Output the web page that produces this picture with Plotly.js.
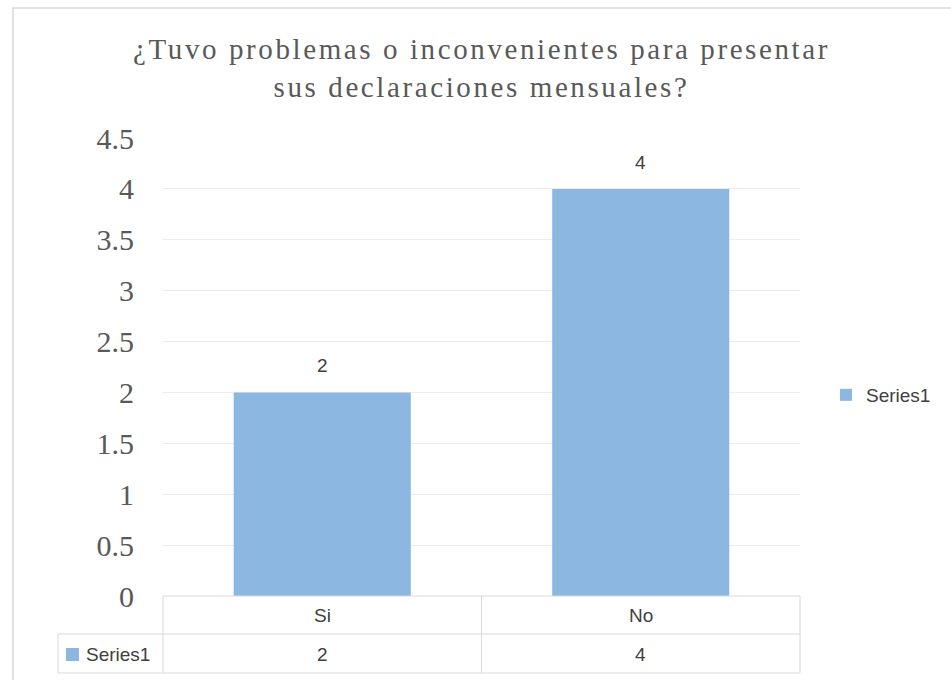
<!DOCTYPE html>
<html>
<head>
<meta charset="utf-8">
<script src="https://cdn.plot.ly/plotly-3.0.1.min.js"></script>
<style>html,body{margin:0;padding:0;background:#fff;}#chart{width:951px;height:680px;}
.gtitle{letter-spacing:2.6px;}</style>
</head>
<body>
<div id="chart"></div>
<script>
const categories = ["Si", "No"];
const values = [2, 4];
const seriesName = "Series1";
const titleText = "¿Tuvo problemas o inconvenientes para presentar<br>sus declaraciones mensuales?";

const barColor = "#8CB7E0";
const gridColor = "#ECECEC";
const tableColor = "#D9D9D9";
const sansFont = "Liberation Sans, Arial, sans-serif";
const serifFont = "Liberation Serif, Times New Roman, serif";

// pixel helpers for plot geometry (plot area: x 163..800, y 138..596)
const L = 163, R = 800, T = 138, B = 596;
const px = v => (v - L) / (R - L);
const py = v => (B - v) / (B - T);

const trace = {
  type: "bar",
  x: categories,
  y: values,
  name: seriesName,
  marker: {color: barColor},
  hoverinfo: "none"
};

const shapes = [
  // outer chart border
  {type: "rect", xref: "paper", yref: "paper", x0: px(13), x1: px(960), y0: py(8), y1: py(700), line: {color: "#D9D9D9", width: 1.5}},
  // table lines
  {type: "line", xref: "paper", yref: "paper", x0: px(L), x1: px(R), y0: py(B), y1: py(B), line: {color: tableColor, width: 1}},
  {type: "line", xref: "paper", yref: "paper", x0: px(58), x1: px(R), y0: py(634), y1: py(634), line: {color: tableColor, width: 1}},
  {type: "line", xref: "paper", yref: "paper", x0: px(58), x1: px(R), y0: py(673), y1: py(673), line: {color: tableColor, width: 1}},
  {type: "line", xref: "paper", yref: "paper", x0: px(58), x1: px(58), y0: py(634), y1: py(673), line: {color: tableColor, width: 1}},
  {type: "line", xref: "paper", yref: "paper", x0: px(L), x1: px(L), y0: py(B), y1: py(673), line: {color: tableColor, width: 1}},
  {type: "line", xref: "paper", yref: "paper", x0: px((L + R) / 2), x1: px((L + R) / 2), y0: py(B), y1: py(673), line: {color: tableColor, width: 1}},
  {type: "line", xref: "paper", yref: "paper", x0: px(R), x1: px(R), y0: py(B), y1: py(673), line: {color: tableColor, width: 1}},
  // legend key in table
  {type: "rect", xref: "paper", yref: "paper", x0: px(66), x1: px(79), y0: py(648), y1: py(661), fillcolor: barColor, line: {width: 0}}
];

const annotations = [];
// data labels
categories.forEach((c, i) => {
  annotations.push({x: c, y: values[i], xref: "x", yref: "y", text: String(values[i]), showarrow: false,
    yanchor: "bottom", yshift: 14, font: {family: sansFont, size: 19, color: "#404040"}});
  // table header
  annotations.push({x: c, y: py(615), xref: "x", yref: "paper", text: c, showarrow: false,
    yanchor: "middle", font: {family: sansFont, size: 19, color: "#404040"}});
  // table values
  annotations.push({x: c, y: py(654), xref: "x", yref: "paper", text: String(values[i]), showarrow: false,
    yanchor: "middle", font: {family: sansFont, size: 19, color: "#404040"}});
});
annotations.push({x: px(84), y: py(654), xref: "paper", yref: "paper", text: seriesName, showarrow: false,
  xanchor: "left", yanchor: "middle", font: {family: sansFont, size: 19, color: "#404040"}});

const layout = {
  width: 951, height: 680,
  margin: {l: L, r: 951 - R, t: T, b: 680 - B, pad: 0},
  paper_bgcolor: "#FFFFFF",
  plot_bgcolor: "#FFFFFF",
  title: {text: titleText, x: px((L + R) / 2), xanchor: "center", xref: "paper", y: 1 - 59 / 680, yanchor: "top", yref: "container",
    font: {family: serifFont, size: 29, color: "#595959"}},
  bargap: 0.444,
  xaxis: {showticklabels: false, showgrid: false, zeroline: false, showline: false, ticks: "", fixedrange: true},
  yaxis: {range: [0, 4.5], dtick: 0.5, tick0: 0, showgrid: true, gridcolor: gridColor, gridwidth: 1, zeroline: false,
    showline: false, ticks: "", ticklabelstandoff: 28,
    tickfont: {family: serifFont, size: 30, color: "#595959"}},
  showlegend: true,
  legend: {x: px(826), xanchor: "left", y: py(395), yanchor: "middle", itemwidth: 30,
    font: {family: sansFont, size: 19, color: "#404040"}, bgcolor: "rgba(0,0,0,0)"},
  shapes: shapes,
  annotations: annotations
};

Plotly.newPlot("chart", [trace], layout, {staticPlot: true, displayModeBar: false});
</script>
</body>
</html>
